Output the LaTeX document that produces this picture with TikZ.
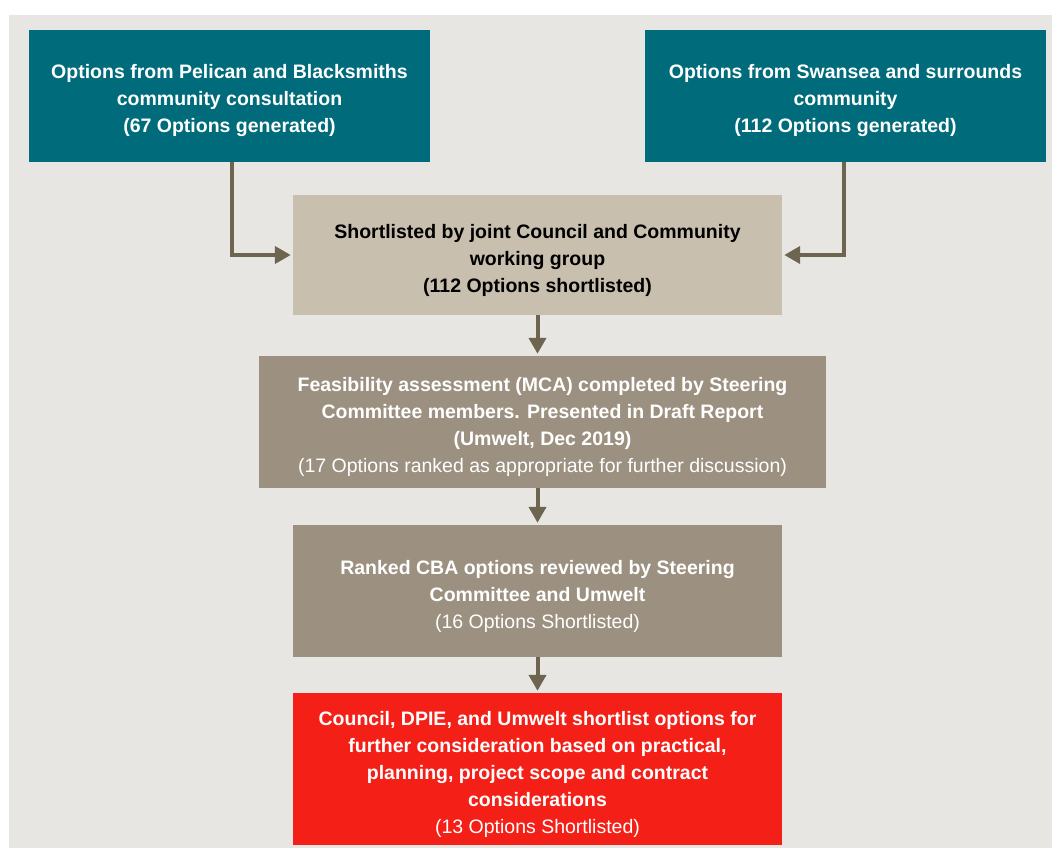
\documentclass[tikz,border=0pt]{standalone}
\usepackage{fontspec}
\setmainfont{Liberation Sans}
\usetikzlibrary{arrows.meta}
\definecolor{tealbox}{HTML}{006B7A}
\definecolor{beigebox}{HTML}{C8BFAE}
\definecolor{greybox}{HTML}{9C9180}
\definecolor{redbox}{HTML}{F41F16}
\definecolor{panel}{HTML}{E8E6E2}
\definecolor{arrowc}{HTML}{6E6551}
\tikzset{
  box/.style={rectangle, inner sep=0pt},
  txt/.style={inner sep=0pt, align=center, text=white,
    font=\fontsize{19.5}{27}\selectfont\bfseries},
  arr/.style={draw=arrowc, line width=4pt,
    -{Triangle[length=16pt,width=17pt]}, shorten >=2pt},
}
\begin{document}
\begin{tikzpicture}[x=1pt,y=-1pt]
\useasboundingbox (0,0) rectangle (1054,848);
\fill[white] (0,0) rectangle (1054,848);
\fill[panel] (9,15) rectangle (1052,848);

\node[box, fill=tealbox, minimum width=401pt, minimum height=132pt] (A) at (229.5,96) {};
\node[txt] (At) at ([yshift=-5pt]A.center)
  {Options from Pelican and Blacksmiths\\community consultation\\(67 Options generated)};
\node[box, fill=tealbox, minimum width=401pt, minimum height=132pt] (B) at (845.5,96) {};
\node[txt] (Bt) at ([yshift=-5pt]B.center)
  {Options from Swansea and surrounds\\community\\(112 Options generated)};
\node[box, fill=beigebox, minimum width=489pt, minimum height=120pt] (C) at (537.5,255) {};
\node[txt, text=black] (Ct) at ([yshift=-5pt]C.center)
  {Shortlisted by joint Council and Community\\working group\\(112 Options shortlisted)};
\node[box, fill=greybox, minimum width=567pt, minimum height=132pt] (D) at (542.5,422) {};
\node[txt] (Dt) at ([yshift=-4.5pt]D.center)
  {Feasibility assessment (MCA) completed by Steering\\Committee members. Presented in Draft Report\\(Umwelt, Dec 2019)\\\mdseries (17 Options ranked as appropriate for further discussion)};
\node[box, fill=greybox, minimum width=489pt, minimum height=132pt] (E) at (537.5,591) {};
\node[txt] (Et) at ([yshift=-5pt]E.center)
  {Ranked CBA options reviewed by Steering\\Committee and Umwelt\\\mdseries (16 Options Shortlisted)};
\node[box, fill=redbox, minimum width=489pt, minimum height=152pt] (F) at (537.5,769) {};
\node[txt] (Ft) at ([yshift=-5pt]F.center)
  {Council, DPIE, and Umwelt shortlist options for\\further consideration based on practical,\\planning, project scope and contract\\considerations\\\mdseries (13 Options Shortlisted)};

\draw[arr] ([xshift=2.5pt]A.south) |- (C.west);
\draw[arr] ([xshift=-1.5pt]B.south) |- (C.east);
\draw[arr] (C.south) -- (C.south |- D.north);
\draw[arr] (E.north |- D.south) -- (E.north);
\draw[arr] (E.south) -- (F.north);
\end{tikzpicture}
\end{document}
